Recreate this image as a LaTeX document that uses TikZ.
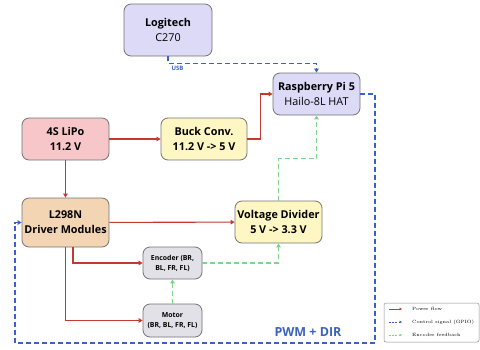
\documentclass[tikz,border=0pt]{standalone}
\usepackage{fontspec}
\setsansfont{Open Sans}
\usetikzlibrary{arrows.meta}
\definecolor{camfill}{HTML}{DCDAF7}
\definecolor{lipofill}{HTML}{F6C6C8}
\definecolor{buckfill}{HTML}{FEF6C3}
\definecolor{drvfill}{HTML}{F3D4B3}
\definecolor{encfill}{HTML}{E1E1E7}
\definecolor{powerred}{HTML}{C23A32}
\definecolor{ctrlblue}{HTML}{3B62C0}
\definecolor{fbgreen}{HTML}{7ED489}
\tikzset{
    block/.style={
        draw=black!55,
        line width=0.8pt,
        rounded corners=7pt,
        align=center,
        inner sep=1pt,
        minimum width=87pt,
        minimum height=42pt,
        font=\sffamily\fontsize{10.8}{15}\selectfont},
    small block/.style={
        block,
        fill=encfill,
        minimum width=59pt,
        minimum height=32pt,
        font=\sffamily\bfseries\fontsize{6.9}{10}\selectfont},
    >={Triangle[length=4pt,width=4.5pt]},
    power/.style={draw=powerred, line width=1.1pt, ->},
    ctrl/.style={draw=ctrlblue, line width=1.1pt, dash pattern=on 5pt off 3pt, ->},
    feedback/.style={draw=fbgreen, line width=1.3pt, dash pattern=on 5pt off 3pt, ->},
    legend text/.style={anchor=west, inner sep=0pt, font=\fontsize{4.6}{5}\selectfont}}

\begin{document}
\begin{tikzpicture}[x=1pt, y=-1pt]
    \useasboundingbox (0,0) rectangle (480,349);

    \node[block, fill=camfill, minimum width=88pt, minimum height=52pt] (cam) at (168,30) {\textbf{Logitech}\\C270};
    \node[block, fill=camfill] (rpi) at (316.5,94) {\textbf{Raspberry Pi 5}\\Hailo-8L HAT};
    \node[block, fill=lipofill] (lipo) at (65.5,139) {\textbf{4S LiPo}\\\textbf{11.2 V}};
    \node[block, fill=buckfill, minimum width=86pt] (buck) at (204,139) {\textbf{Buck Conv.}\\\textbf{11.2 V -> 5 V}};
    \node[block, fill=drvfill, minimum height=49pt] (driver) at (65.5,222.5) {\textbf{L298N}\\\textbf{Driver Modules}};
    \node[block, fill=buckfill] (divider) at (278.5,222) {\textbf{Voltage Divider}\\\textbf{5 V -> 3.3 V}};
    \node[small block] (enc) at (172.5,263) {Encoder (BR,\\BL, FR, FL)};
    \node[small block, minimum height=33pt] (motor) at (172.5,320.5) {Motor\\(BR, BL, FR, FL)};

    % power
    \draw[power] (lipo) -- (buck);
    \draw[power] (buck.east) -- ++(13,0) |- (rpi.west);
    \draw[power] (lipo) -- (driver);
    \draw[power] (driver) -- (divider);
    \draw[power] ([xshift=7.5pt]driver.south) |- (enc.west);
    \draw[power] (driver.south) |- (motor.west);

    % control signals
    \draw[ctrl] (cam.south) -- ++(0,7)
        node[below right, inner xsep=3pt, inner ysep=2pt, text=ctrlblue, font=\sffamily\bfseries\fontsize{6}{7}\selectfont] {USB}
        -| (rpi.north);
    \coordinate (ctrlcorner) at (375,343);
    \draw[ctrl] (rpi.east) -| (ctrlcorner) -- ++(-360,0) |- (driver.west);
    \node[text=ctrlblue, font=\sffamily\bfseries\fontsize{12.5}{15}\selectfont] (pwm) at (308,332) {PWM + DIR};

    % encoder feedback
    \draw[feedback] (motor) -- (enc);
    \draw[feedback] (enc.east) -| (divider.south);
    \draw[feedback] (divider.north) -- ++(0,-42) -| (rpi.south);

    % legend
    \node[draw=black!45, line width=0.5pt, rounded corners=2pt, fill=white, minimum width=95pt, minimum height=39pt] (legend) at (431.5,322.5) {};
    \node[legend text] (lg1) at (412,309) {Power flow};
    \node[legend text] (lg2) at (412,322) {Control signal (GPIO)};
    \node[legend text] (lg3) at (412,335) {Encoder feedback};
    \draw[power, line width=0.6pt, >={Triangle[length=2.5pt,width=2.5pt]}] ([xshift=-23pt]lg1.west) -- ([xshift=-10pt]lg1.west);
    \draw[ctrl, line width=0.6pt, dash pattern=on 2pt off 1.2pt, >={Triangle[length=2.5pt,width=2.5pt]}] ([xshift=-23pt]lg2.west) -- ([xshift=-10pt]lg2.west);
    \draw[feedback, line width=0.6pt, dash pattern=on 2pt off 1.2pt, >={Triangle[length=2.5pt,width=2.5pt]}] ([xshift=-23pt]lg3.west) -- ([xshift=-10pt]lg3.west);
\end{tikzpicture}
\end{document}
